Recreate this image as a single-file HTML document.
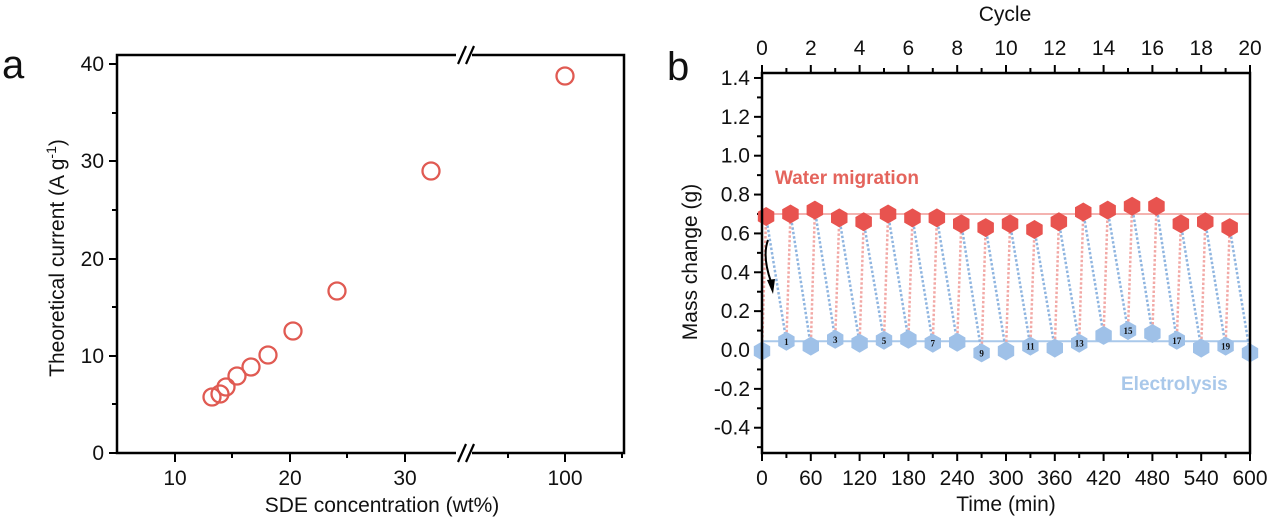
<!DOCTYPE html>
<html><head><meta charset="utf-8"><style>
html,body{margin:0;padding:0;background:#fff;}
svg{display:block;font-family:"Liberation Sans",Arial,sans-serif;}
</style></head><body>
<svg width="1270" height="521" viewBox="0 0 1270 521" xmlns="http://www.w3.org/2000/svg">
<!-- Panel a -->
<text x="2" y="78" font-size="40" fill="#111">a</text>
<g stroke="#000" stroke-width="2.5" fill="none">
<path d="M456,55 H117 V453 H456"/>
<path d="M472,55 H624 V453 H472"/>
</g>
<g stroke="#000" stroke-width="2.2">
<line x1="458" y1="64" x2="466" y2="46"/><line x1="466" y1="64" x2="474" y2="46"/>
<line x1="458" y1="462" x2="466" y2="444"/><line x1="466" y1="462" x2="474" y2="444"/>
</g>
<g stroke="#000" stroke-width="2">
<line x1="109" y1="64" x2="117" y2="64"/><line x1="109" y1="161" x2="117" y2="161"/><line x1="109" y1="259" x2="117" y2="259"/><line x1="109" y1="356" x2="117" y2="356"/><line x1="109" y1="453" x2="117" y2="453"/>
<line x1="112" y1="113" x2="117" y2="113"/><line x1="112" y1="210" x2="117" y2="210"/><line x1="112" y1="307" x2="117" y2="307"/><line x1="112" y1="404" x2="117" y2="404"/>
<line x1="175" y1="453" x2="175" y2="462"/><line x1="290" y1="453" x2="290" y2="462"/><line x1="405" y1="453" x2="405" y2="462"/><line x1="565" y1="453" x2="565" y2="462"/>
<line x1="232" y1="453" x2="232" y2="458"/><line x1="347" y1="453" x2="347" y2="458"/><line x1="508" y1="453" x2="508" y2="458"/><line x1="622" y1="453" x2="622" y2="458"/>
</g>
<g font-size="21" fill="#111" text-anchor="end">
<text x="104" y="71">40</text><text x="104" y="168">30</text><text x="104" y="266">20</text><text x="104" y="363">10</text><text x="104" y="460">0</text>
</g>
<g font-size="21" fill="#111" text-anchor="middle">
<text x="175" y="485">10</text><text x="290" y="485">20</text><text x="405" y="485">30</text><text x="565" y="485">100</text>
<text x="382" y="512">SDE concentration (wt%)</text>
</g>
<text transform="translate(64,258) rotate(-90)" font-size="21" fill="#111" text-anchor="middle">Theoretical current (A g<tspan dy="-8" font-size="14">-1</tspan><tspan dy="8">)</tspan></text>
<g fill="none" stroke="#e05a52" stroke-width="2.3">
<circle cx="212" cy="397" r="8.5"/><circle cx="220" cy="394" r="8.5"/><circle cx="226" cy="387" r="8.5"/><circle cx="237" cy="376" r="8.5"/><circle cx="251" cy="367" r="8.5"/><circle cx="268" cy="355" r="8.5"/><circle cx="293" cy="331" r="8.5"/><circle cx="337" cy="291" r="8.5"/><circle cx="431" cy="171" r="8.5"/><circle cx="565" cy="76" r="8.5"/>
</g>

<!-- Panel b -->
<text x="667" y="80" font-size="40" fill="#111">b</text>
<text x="1005" y="21" font-size="21" fill="#111" text-anchor="middle">Cycle</text>
<g id="bplot"></g>
<rect x="762" y="73" width="488" height="380" fill="none" stroke="#000" stroke-width="2.5"/>
<text transform="translate(697,262) rotate(-90)" font-size="21" fill="#111" text-anchor="middle">Mass change (g)</text>
<text x="1006" y="511" font-size="21" fill="#111" text-anchor="middle">Time (min)</text>
<text x="775" y="184" font-size="19" font-weight="bold" fill="#e4645c">Water migration</text>
<text x="1121" y="390" font-size="19" font-weight="bold" fill="#a9c8ea">Electrolysis</text>
<path d="M768,240 Q762,256 771,282" fill="none" stroke="#000" stroke-width="2"/>
<path d="M767,280 L773,294 L775,279 Z" fill="#000"/>
</svg>
<script>
(function(){
var ns="http://www.w3.org/2000/svg",g=document.getElementById('bplot');
function el(n,a,t){var e=document.createElementNS(ns,n);for(var k in a)e.setAttribute(k,a[k]);if(t!==undefined)e.textContent=t;g.appendChild(e);return e;}
function X(t){return 762+t*488/600;}function Y(v){return 350-194.3*v;}
for(var i=-5;i<=14;i++){var v=i/10,y=Y(v);var maj=(i%2==0);
el('line',{x1:maj?754:757,x2:762,y1:y,y2:y,stroke:'#000','stroke-width':2});
if(maj&&i>=-4)el('text',{x:750,y:y+7,'font-size':21,'text-anchor':'end',fill:'#111'},(v<0?'-':'')+Math.abs(v).toFixed(1));}
for(var k=0;k<=20;k++){var x=X(k*30),maj=(k%2==0);
el('line',{x1:x,x2:x,y1:453,y2:maj?461:458,stroke:'#000','stroke-width':2});
el('line',{x1:x,x2:x,y1:73,y2:maj?65:68,stroke:'#000','stroke-width':2});
if(maj){el('text',{x:x,y:485,'font-size':21,'text-anchor':'middle',fill:'#111'},String(k*30));
el('text',{x:x,y:55,'font-size':21,'text-anchor':'middle',fill:'#111'},String(k));}}
var R=[0.687,0.70,0.72,0.68,0.66,0.70,0.68,0.68,0.65,0.63,0.65,0.62,0.66,0.71,0.72,0.74,0.74,0.65,0.66,0.63];
var B=[-0.005,0.045,0.02,0.055,0.035,0.05,0.055,0.035,0.04,-0.015,-0.005,0.02,0.01,0.035,0.075,0.10,0.085,0.05,0.01,0.02,-0.015];
el('line',{x1:762,x2:1250,y1:Y(0.70),y2:Y(0.70),stroke:'#f4b3b0','stroke-width':2});
el('line',{x1:762,x2:1250,y1:Y(0.045),y2:Y(0.045),stroke:'#a9c8ea','stroke-width':2});
for(var k=0;k<20;k++){
el('line',{x1:X(k*30),y1:Y(B[k]),x2:X(k*30+5),y2:Y(R[k]),stroke:'#f2a9a6','stroke-width':2.5,'stroke-dasharray':'2.5,2'});
el('line',{x1:X(k*30+5),y1:Y(R[k]),x2:X(k*30+30),y2:Y(B[k+1]),stroke:'#8fb5e0','stroke-width':2.5,'stroke-dasharray':'2.5,2'});}
function hex(cx,cy,r,f){var p=[];for(var i=0;i<6;i++){var a=Math.PI/3*i-Math.PI/2;p.push((cx+r*Math.cos(a)).toFixed(1)+','+(cy+r*Math.sin(a)).toFixed(1));}el('polygon',{points:p.join(' '),fill:f});}
for(var k=0;k<20;k++)hex(X(k*30+5),Y(R[k]),9.5,'#e8534f');
for(var k=0;k<=20;k++){hex(X(k*30),Y(B[k]),9.5,'#9fc1e8');
if(k%2==1)el('text',{x:X(k*30),y:Y(B[k])+3.5,'font-size':9,'font-weight':'bold','text-anchor':'middle',fill:'#111','font-family':'Liberation Serif,serif'},String(k));}
})();
</script>
</body></html>
